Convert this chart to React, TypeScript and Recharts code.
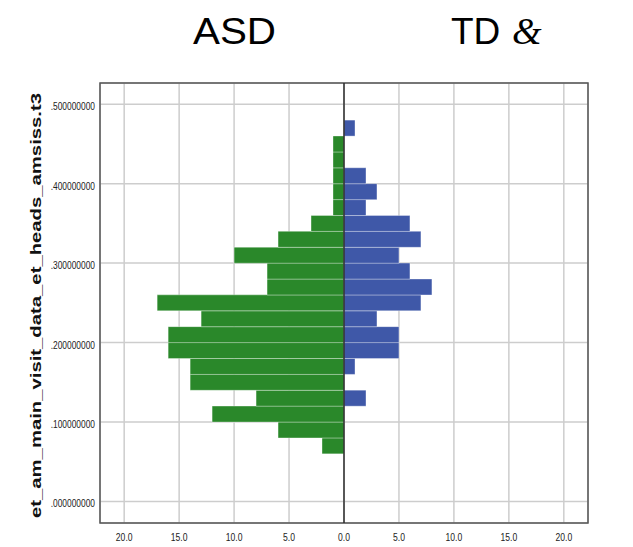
import { BarChart, Bar, XAxis, YAxis, CartesianGrid, ReferenceLine, ReferenceArea } from "recharts";

// histogram bins (midpoints), width 0.02
const binMids = [0.07, 0.09, 0.11, 0.13, 0.15, 0.17, 0.19, 0.21, 0.23, 0.25, 0.27, 0.29, 0.31, 0.33, 0.35, 0.37, 0.39, 0.41, 0.43, 0.45, 0.47];
const asdCounts = [2, 6, 12, 8, 14, 14, 16, 16, 13, 17, 7, 7, 10, 6, 3, 1, 1, 1, 1, 1, 0];
const tdCounts = [0, 0, 0, 2, 0, 1, 5, 5, 3, 7, 8, 6, 5, 7, 6, 2, 3, 2, 0, 0, 1];

const xTicks = [-20, -15, -10, -5, 0, 5, 10, 15, 20];
const yTicks = [0, 0.1, 0.2, 0.3, 0.4, 0.5];

const X_DOMAIN: [number, number] = [-22.2, 22.2];
const Y_DOMAIN: [number, number] = [-0.0272, 0.5267];

const GREEN = "#2a882a";
const BLUE = "#3f58a8";

const data = binMids.map((mid, i) => ({
  mid,
  asd: -asdCounts[i],
  td: tdCounts[i],
}));

const fmtY = (v: number) => v.toFixed(9).replace(/^0/, "");
const fmtX = (v: number) => Math.abs(v).toFixed(1);

function YTick(props: any) {
  const { x, y, payload } = props;
  return (
    <text
      transform={`translate(${x},${y + 6}) scale(0.84,1)`}
      textAnchor="end"
      fontSize={10}
      fontFamily="'Liberation Sans', Arial, sans-serif"
      fill="#222"
    >
      {fmtY(payload.value)}
    </text>
  );
}

function XTick(props: any) {
  const { x, y, payload } = props;
  return (
    <text
      transform={`translate(${x},${y + 18}) scale(0.86,1)`}
      textAnchor="middle"
      fontSize={10}
      fontFamily="'Liberation Sans', Arial, sans-serif"
      fill="#222"
    >
      {fmtX(payload.value)}
    </text>
  );
}

export default function App() {
  const W = 625;
  const H = 539;
  return (
    <div style={{ position: "relative", width: W, height: H }}>
      <BarChart
        width={W}
        height={H}
        data={data}
        layout="vertical"
        stackOffset="sign"
        barCategoryGap={0}
        barGap={0}
        margin={{ top: 75, right: 45, bottom: 0, left: 32 }}
      >
        <CartesianGrid stroke="#cdcdcd" strokeWidth={1.5} />
        <XAxis
          type="number"
          domain={X_DOMAIN}
          ticks={xTicks}
          allowDataOverflow
          height={24}
          tickSize={0}
          tickMargin={0}
          tickLine={false}
          axisLine={false}
          tick={<XTick />}
          interval={0}
        />
        <YAxis
          type="number"
          dataKey="mid"
          domain={Y_DOMAIN}
          ticks={yTicks}
          allowDataOverflow
          reversed
          width={60}
          tickSize={0}
          tickMargin={5}
          tickLine={false}
          axisLine={false}
          tick={<YTick />}
          interval={0}
        />
        <Bar dataKey="asd" stackId="s" fill={GREEN} stroke="rgba(255,255,255,0.35)" strokeWidth={1} isAnimationActive={false} />
        <Bar dataKey="td" stackId="s" fill={BLUE} stroke="rgba(255,255,255,0.35)" strokeWidth={1} isAnimationActive={false} />
        <ReferenceLine x={0} stroke="#2b2b2b" strokeWidth={1.5} />
        <ReferenceArea
          x1={X_DOMAIN[0]}
          x2={X_DOMAIN[1]}
          y1={Y_DOMAIN[0]}
          y2={Y_DOMAIN[1]}
          fill="none"
          stroke="#555"
          strokeWidth={1.5}
          ifOverflow="visible"
        />
      </BarChart>
      <svg width={W} height={H} style={{ position: "absolute", left: 0, top: 0, pointerEvents: "none" }}>
        <text x={185} y={36} fontSize={37} fontFamily="'Liberation Sans', Arial, sans-serif" fill="#000" textLength={83} lengthAdjust="spacingAndGlyphs">
          ASD
        </text>
        <text x={443} y={36} fontSize={37} fontFamily="'Liberation Sans', Arial, sans-serif" fill="#000">
          TD
        </text>
        <text x={504} y={36} fontSize={38} fontStyle="italic" fontFamily="'Liberation Serif', 'DejaVu Serif', serif" fill="#000">
          &amp;
        </text>
        <text
          transform="translate(33,297.5) rotate(-90)"
          textAnchor="middle"
          fontSize={15.5}
          fontWeight="bold"
          fontFamily="'Liberation Sans', Arial, sans-serif"
          fill="#111"
          textLength={425}
          lengthAdjust="spacingAndGlyphs"
        >
          et_am_main_visit_data_et_heads_amsiss.t3
        </text>
      </svg>
    </div>
  );
}
